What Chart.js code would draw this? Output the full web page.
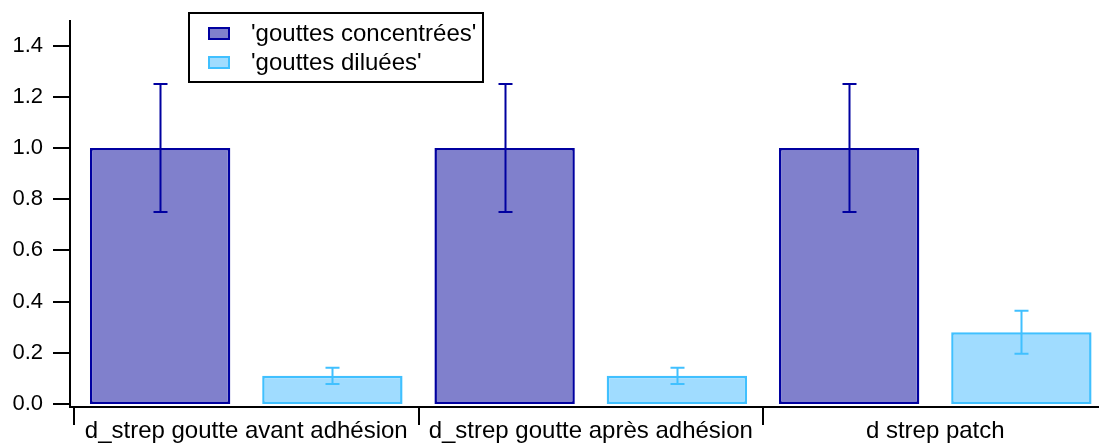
<!DOCTYPE html>
<html>
<head>
<meta charset="utf-8">
<script src="https://cdn.jsdelivr.net/npm/chart.js@4.4.1/dist/chart.umd.min.js"></script>
<style>
  html, body { margin: 0; padding: 0; background: #fff; overflow: hidden; }
  #wrap { position: relative; width: 1110px; height: 445px; }
</style>
</head>
<body>
<div id="wrap"><canvas id="bar-chart"></canvas></div>
<script>
// Values
const categories = ['d_strep goutte avant adhésion', 'd_strep goutte après adhésion', 'd strep patch'];
const concentrees = [1.0, 1.0, 1.0];
const concentreesErr = [0.25, 0.25, 0.25];
const diluees = [0.11, 0.11, 0.28];
const dilueesErr = [0.032, 0.032, 0.084];
const yTickValues = [0, 0.2, 0.4, 0.6, 0.8, 1.0, 1.2, 1.4];

const FONT = '"Liberation Sans", Arial, sans-serif';

// Igor-style axes: lines pushed a few px off the plot area, ticks drawn outward
const axesPlugin = {
    id: 'igorAxes',
    afterDraw(chart) {
        const { ctx, chartArea: a, scales } = chart;
        const x = scales.x, y = scales.y;
        const axX = a.left - 4, axY = a.bottom + 3;
        ctx.save();
        ctx.strokeStyle = '#000';
        ctx.lineWidth = 2;
        ctx.beginPath();
        ctx.moveTo(axX, a.top);
        ctx.lineTo(axX, axY + 1);
        ctx.moveTo(axX - 1, axY);
        ctx.lineTo(chart.width, axY);
        // y ticks
        yTickValues.forEach(v => {
            const py = Math.round(y.getPixelForValue(v));
            ctx.moveTo(axX - 17, py);
            ctx.lineTo(axX, py);
        });
        // x ticks at category boundaries
        const step = x.getPixelForValue(1) - x.getPixelForValue(0);
        for (let i = 0; i <= categories.length; i++) {
            const px = Math.round(x.getPixelForValue(0) - step / 2 + i * step);
            ctx.moveTo(px, axY);
            ctx.lineTo(px, axY + 18);
        }
        ctx.stroke();
        ctx.restore();
    }
};

// error bars from the *Err arrays
const errorBarPlugin = {
    id: 'errorBars',
    afterDatasetsDraw(chart) {
        const { ctx, scales } = chart;
        const errs = [concentreesErr, dilueesErr];
        chart.data.datasets.forEach((ds, di) => {
            const meta = chart.getDatasetMeta(di);
            ctx.save();
            ctx.strokeStyle = ds.borderColor;
            ctx.lineWidth = 2;
            meta.data.forEach((bar, i) => {
                const v = ds.data[i], e = errs[di][i];
                const top = scales.y.getPixelForValue(v + e);
                const bot = scales.y.getPixelForValue(v - e);
                const cx = Math.round(bar.x) + 0.5;
                ctx.beginPath();
                ctx.moveTo(cx, top);
                ctx.lineTo(cx, bot);
                ctx.moveTo(cx - 7, top);
                ctx.lineTo(cx + 7, top);
                ctx.moveTo(cx - 7, bot);
                ctx.lineTo(cx + 7, bot);
                ctx.stroke();
            });
            ctx.restore();
        });
    }
};

// boxed legend sitting inside the plot
const legendBoxPlugin = {
    id: 'legendBox',
    afterDraw(chart) {
        const { ctx } = chart;
        ctx.save();
        ctx.strokeStyle = '#000';
        ctx.lineWidth = 2;
        ctx.strokeRect(189, 13, 294, 69);
        ctx.font = '24px ' + FONT;
        ctx.textBaseline = 'middle';
        ctx.fillStyle = '#000';
        chart.data.datasets.forEach((ds, i) => {
            const sy = 27 + i * 29;
            ctx.fillStyle = ds.backgroundColor;
            ctx.fillRect(208, sy, 22, 13);
            ctx.strokeStyle = ds.borderColor;
            ctx.strokeRect(209, sy + 1, 20, 11);
            ctx.fillStyle = '#000';
            ctx.fillText(ds.label, 251, sy + 7);
        });
        ctx.restore();
    }
};

const noPad = s => { s.paddingTop = 0; s.paddingBottom = 0; s.paddingLeft = 0; s.paddingRight = 0; };

new Chart(document.getElementById('bar-chart'), {
    type: 'bar',
    data: {
        labels: categories,
        datasets: [{
            label: "'gouttes concentrées'",
            data: concentrees,
            backgroundColor: '#8080cc',
            borderColor: '#0000a0',
            borderWidth: 2.5,
            borderSkipped: false
        }, {
            label: "'gouttes diluées'",
            data: diluees,
            backgroundColor: '#a0dcff',
            borderColor: '#40c0ff',
            borderWidth: 2.5,
            borderSkipped: false
        }]
    },
    options: {
        responsive: true,
        maintainAspectRatio: false,
        animation: false,
        categoryPercentage: 1.0,
        barPercentage: 0.815,
        layout: { padding: { top: 20, right: 2.5, left: 0, bottom: 0 } },
        plugins: {
            legend: { display: false },
            tooltip: { enabled: false }
        },
        scales: {
            x: {
                grid: { display: false, drawTicks: false },
                border: { display: false },
                ticks: {
                    color: '#000',
                    padding: 13,
                    maxRotation: 0,
                    autoSkip: false,
                    font: { family: FONT, size: 24 }
                },
                afterFit: s => { s.height = 41; noPad(s); }
            },
            y: {
                min: 0,
                max: 1.5,
                grid: { display: false, drawTicks: false },
                border: { display: false },
                afterBuildTicks: s => { s.ticks = yTickValues.map(v => ({ value: v })); },
                ticks: {
                    color: '#000',
                    padding: 31,
                    font: { family: FONT, size: 22 },
                    callback: v => Number(v).toFixed(1)
                },
                afterFit: s => { s.width = 74; noPad(s); }
            }
        }
    },
    plugins: [errorBarPlugin, axesPlugin, legendBoxPlugin]
});
</script>
</body>
</html>
